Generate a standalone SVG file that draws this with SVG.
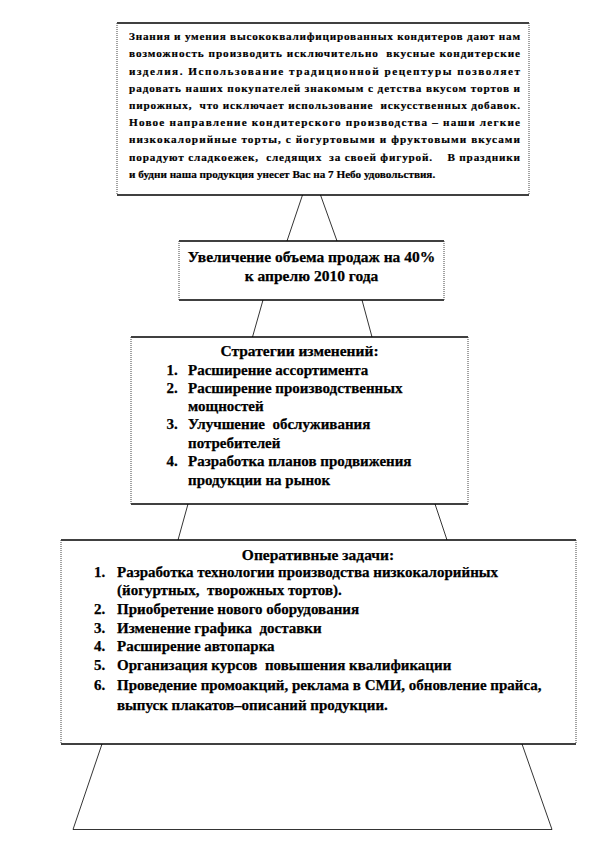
<svg xmlns="http://www.w3.org/2000/svg" width="612" height="864" viewBox="0 0 612 864">
<style>
text{font-family:"Liberation Serif","Times New Roman",serif;font-weight:bold;fill:#000;stroke:#000;stroke-width:0.25}
.p{font-size:11.2px;stroke-width:0.2}
.t{font-size:15.5px}
.l{font-size:15px}
.c{text-anchor:middle}
.hz{stroke:#000;stroke-width:1.4;fill:none}
.vt{stroke:#444;stroke-width:1;stroke-dasharray:1 1;fill:none}
.bg{fill:#fff;stroke:none}
.cn{stroke:#000;stroke-width:0.8;fill:none}
</style>
<rect width="612" height="864" fill="#fff"/>
<g id="connectors">
<line class="cn" x1="302.5" y1="195" x2="287" y2="241"/>
<line class="cn" x1="320.5" y1="195" x2="337" y2="241"/>
<line class="cn" x1="263" y1="300" x2="252.5" y2="337"/>
<line class="cn" x1="362" y1="300" x2="372" y2="337"/>
<line class="cn" x1="188" y1="504" x2="178" y2="540"/>
<line class="cn" x1="435" y1="504" x2="447" y2="540"/>
<polyline class="cn" points="102,744 73,829.5 552,829.5 522,744"/>
</g>
<g id="mission">
<rect class="bg" x="117" y="23" width="412" height="172"/>
<line class="hz" x1="117" y1="23" x2="529" y2="23"/>
<line class="hz" x1="117" y1="195" x2="529" y2="195"/>
<line class="vt" x1="117" y1="23" x2="117" y2="195"/>
<line class="vt" x1="529" y1="23" x2="529" y2="195"/>
<text class="p" x="129" y="40.2" textLength="391" lengthAdjust="spacing">Знания и умения высококвалифицированных кондитеров дают нам</text>
<text class="p" x="129" y="57.4" textLength="391" lengthAdjust="spacing" xml:space="preserve">возможность производить исключительно  вкусные кондитерские</text>
<text class="p" x="129" y="74.6" textLength="391" lengthAdjust="spacing">изделия. Использование традиционной рецептуры позволяет</text>
<text class="p" x="129" y="91.8" textLength="391" lengthAdjust="spacing">радовать наших покупателей знакомым с детства вкусом тортов и</text>
<text class="p" x="129" y="109" textLength="391" lengthAdjust="spacing" xml:space="preserve">пирожных,  что исключает использование  искусственных добавок.</text>
<text class="p" x="129" y="126.2" textLength="391" lengthAdjust="spacing">Новое направление кондитерского производства – наши легкие</text>
<text class="p" x="129" y="143.4" textLength="391" lengthAdjust="spacing">низкокалорийные торты, с йогуртовыми и фруктовыми вкусами</text>
<text class="p" x="129" y="160.6" textLength="391" lengthAdjust="spacing" xml:space="preserve">порадуют сладкоежек,  следящих  за своей фигурой.    В праздники</text>
<text class="p" x="129" y="177.8">и будни наша продукция унесет Вас на 7 Небо удовольствия.</text>
</g>
<g id="goal">
<rect class="bg" x="179" y="241" width="265" height="59"/>
<line class="hz" x1="179" y1="241" x2="444" y2="241"/>
<line class="hz" x1="179" y1="300" x2="444" y2="300"/>
<line class="vt" x1="179" y1="241" x2="179" y2="300"/>
<line class="vt" x1="444" y1="241" x2="444" y2="300"/>
<text class="t c" x="311.5" y="262">Увеличение объема продаж на 40%</text>
<text class="t c" x="311.5" y="281">к апрелю 2010 года</text>
</g>
<g id="strategies">
<rect class="bg" x="131" y="337" width="337" height="167"/>
<line class="hz" x1="131" y1="337" x2="468" y2="337"/>
<line class="hz" x1="131" y1="504" x2="468" y2="504"/>
<line class="vt" x1="131" y1="337" x2="131" y2="504"/>
<line class="vt" x1="468" y1="337" x2="468" y2="504"/>
<text class="t c" x="299.5" y="356">Стратегии изменений:</text>
<text class="l" x="166.5" y="374.5">1.</text>
<text class="l" x="188" y="374.5">Расширение ассортимента</text>
<text class="l" x="166.5" y="392.8">2.</text>
<text class="l" x="188" y="392.8">Расширение производственных</text>
<text class="l" x="188" y="411.1">мощностей</text>
<text class="l" x="166.5" y="429.4">3.</text>
<text class="l" x="188" y="429.4" xml:space="preserve">Улучшение  обслуживания</text>
<text class="l" x="188" y="447.7">потребителей</text>
<text class="l" x="166.5" y="466">4.</text>
<text class="l" x="188" y="466">Разработка планов продвижения</text>
<text class="l" x="188" y="484.5">продукции на рынок</text>
</g>
<g id="tasks">
<rect class="bg" x="61" y="540" width="515" height="204"/>
<line class="hz" x1="61" y1="540" x2="576" y2="540"/>
<line class="hz" x1="61" y1="744" x2="576" y2="744"/>
<line class="vt" x1="61" y1="540" x2="61" y2="744"/>
<line class="vt" x1="576" y1="540" x2="576" y2="744"/>
<text class="t c" x="318" y="560">Оперативные задачи:</text>
<text class="l" x="94" y="576.5">1.</text>
<text class="l" x="117" y="576.5">Разработка технологии производства низкокалорийных</text>
<text class="l" x="117" y="595" xml:space="preserve">(йогуртных,  творожных тортов).</text>
<text class="l" x="94" y="614">2.</text>
<text class="l" x="117" y="614">Приобретение нового оборудования</text>
<text class="l" x="94" y="632.5">3.</text>
<text class="l" x="117" y="632.5" xml:space="preserve">Изменение графика  доставки</text>
<text class="l" x="94" y="651">4.</text>
<text class="l" x="117" y="651">Расширение автопарка</text>
<text class="l" x="94" y="670">5.</text>
<text class="l" x="117" y="670" xml:space="preserve">Организация курсов  повышения квалификации</text>
<text class="l" x="94" y="689.5">6.</text>
<text class="l" x="117" y="689.5">Проведение промоакций, реклама в СМИ, обновление прайса,</text>
<text class="l" x="117" y="710">выпуск плакатов–описаний продукции.</text>
</g>
</svg>
